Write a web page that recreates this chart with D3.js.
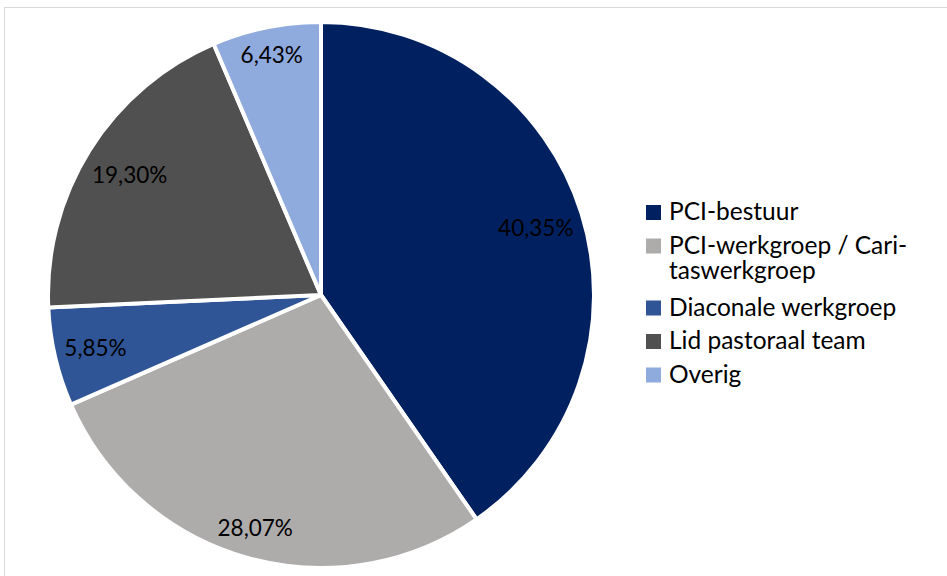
<!DOCTYPE html>
<html><head><meta charset="utf-8">
<script src="https://cdn.jsdelivr.net/npm/d3@7"></script>
<style>html,body{margin:0;padding:0;background:#fff;}svg{display:block;}</style>
</head><body>
<svg id="chart" width="947" height="576"></svg>
<script>
const categories = ["PCI-bestuur", "PCI-werkgroep / Caritaswerkgroep", "Diaconale werkgroep", "Lid pastoraal team", "Overig"];
const legendLines = [["PCI-bestuur"], ["PCI-werkgroep / Cari-", "taswerkgroep"], ["Diaconale werkgroep"], ["Lid pastoraal team"], ["Overig"]];
const values = [40.35, 28.07, 5.85, 19.30, 6.43];
const valueLabels = ["40,35%", "28,07%", "5,85%", "19,30%", "6,43%"];
const colors = ["#002060", "#AEABAB", "#2F5597", "#505050", "#8FAADC"];

const svg = d3.select("#chart");
const font = "Lato, 'Open Sans', sans-serif";

svg.append("rect").attr("x", 4.5).attr("y", 7.5).attr("width", 960).attr("height", 600)
  .attr("fill", "#fff").attr("stroke", "#d9d9d9").attr("stroke-width", 1);

const cx = 321, cy = 295, r = 273;
const pie = d3.pie().sort(null).value(d => d);
const arcs = pie(values);
const arc = d3.arc().innerRadius(0).outerRadius(r);

const g = svg.append("g").attr("transform", `translate(${cx},${cy})`);
g.selectAll("path").data(arcs).join("path")
  .attr("d", arc)
  .attr("fill", (d, i) => colors[i])
  .attr("stroke", "#fff").attr("stroke-width", 4).attr("stroke-linejoin", "miter");

// labels: inside end
const lfs = 22.5;
g.selectAll("text.lbl").data(arcs).join("text")
  .attr("class", "lbl")
  .attr("font-family", font).attr("font-size", lfs).attr("fill", "#000")
  .attr("text-anchor", "middle").attr("dominant-baseline", "central")
  .text((d, i) => valueLabels[i])
  .each(function(d) {
    const bb = this.getBBox();
    const a = (d.startAngle + d.endAngle) / 2;
    const s = Math.sin(a), c = Math.cos(a);
    const ext = bb.width / 2 * Math.abs(s) + bb.height / 2 * Math.abs(c);
    const rho = r - ext - 8;
    d3.select(this).attr("x", rho * s).attr("y", -rho * c);
  });

// legend
const fs = 24.5;
const lx = 646, sq = 15;
let y = 220;
const lineH = 25, gap = 33.5;
const lg = svg.append("g");
legendLines.forEach((lines, i) => {
  lg.append("rect").attr("x", lx).attr("y", y - 15).attr("width", sq).attr("height", sq).attr("fill", colors[i]);
  const t = lg.append("text").attr("x", lx + 23).attr("y", y)
    .attr("font-family", font).attr("font-size", fs).attr("fill", "#000");
  lines.forEach((line, j) => {
    t.append("tspan").attr("x", lx + 23).attr("dy", j === 0 ? 0 : lineH).text(line);
  });
  y += (lines.length - 1) * (lineH + 3.5) + gap;
});
</script>
</body></html>
